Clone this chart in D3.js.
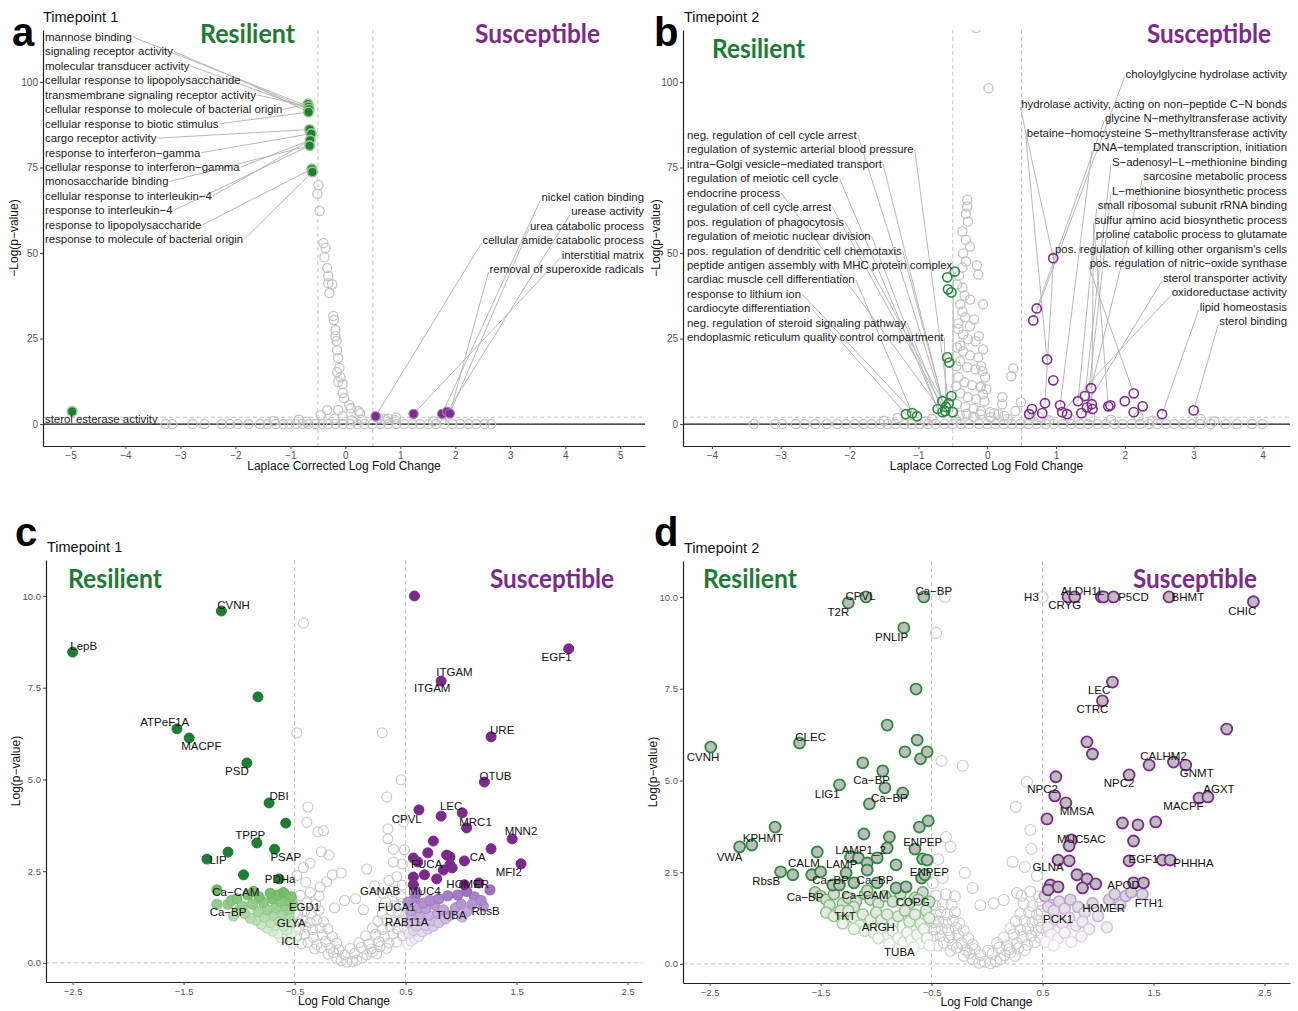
<!DOCTYPE html>
<html>
<head>
<meta charset="utf-8">
<title>Volcano plots - Timepoint 1 and 2</title>
<script src="https://cdn.jsdelivr.net/npm/d3@7/dist/d3.min.js"></script>
<style>
  body { margin: 0; background: #fff; }
  svg text { font-family: "Liberation Sans", Arial, sans-serif; }
  .group { font-family: Lato, "Open Sans", sans-serif !important; font-weight: 700; }
</style>
</head>
<body>
<svg id="fig" width="1298" height="1011"></svg>
<script>
// ---------------- tick labels ----------------
const aXTicks = [-5, -4, -3, -2, -1, 0, 1, 2, 3, 4, 5];
const bXTicks = [-4, -3, -2, -1, 0, 1, 2, 3, 4];
const abYTicks = [0, 25, 50, 75, 100];
const cdXTicks = [-2.5, -1.5, -0.5, 0.5, 1.5, 2.5];
const cdYTicks = [0, 2.5, 5, 7.5, 10];

// ---------------- panel a (GO terms, timepoint 1) ----------------
const aGreen = [[-0.68,93.6],[-0.67,92.8],[-0.66,92.0],[-0.67,91.2],[-0.65,86.1],[-0.62,84.9],[-0.64,83.0],[-0.65,81.4],[-0.61,74.6],[-0.60,73.7],[-4.97,3.7]];
const aPurple = [[0.55,2.3],[1.24,3.0],[1.76,3.0],[1.85,3.6],[1.90,3.1]];
const aGrey = [
  [-0.49,69.9],[-0.51,67.3],[-0.47,62.3],[-0.40,52.9],[-0.36,51.5],[-0.38,48.8],[-0.33,45.6],[-0.31,43.3],
  [-0.31,41.2],[-0.24,40.9],[-0.29,38.3],[-0.22,31.6],[-0.21,30.4],[-0.18,27.5],[-0.18,25.7],[-0.16,24.3],
  [-0.15,21.6],[-0.13,19.3],[-0.11,16.4],[-0.15,15.2],[-0.09,13.7],[-0.13,12.3],[-0.05,11.7],[-0.05,9.1],
  [-0.02,7.6],[0.07,5.6],[0.10,4.6],[-0.13,4.1],[-0.33,4.1],[0.24,3.8],[0.27,3.2],[-0.45,2.6],[-0.05,2.4],
  [0.60,1.8],[0.78,1.6],[0.92,1.9],[-1.30,0.9],[-0.85,1.3],[-0.70,0.7],[0.12,1.1],[0.72,1.4],[0.90,1.2],
  [1.60,0.8],[1.75,1.1],[-0.20,1.6],[0.30,1.3],
  [-3.27,0],[-3.15,0],[-2.78,0],[-2.56,0],[-2.25,0],[-2.10,0],[-1.96,0],[-1.76,0],[-1.55,0],[-1.42,0],
  [-1.27,0],[-1.13,0],[-1.02,0],[-0.90,0],[-0.78,0],[-0.67,0],[-0.55,0],[-0.42,0],[-0.31,0],[-0.18,0],
  [-0.05,0],[0.09,0],[0.22,0],[0.35,0],[0.49,0],[0.64,0],[0.78,0],[0.93,0],[1.07,0],[1.22,0],[1.36,0],
  [1.51,0],[1.65,0],[1.80,0],[1.95,0],[2.09,0],[2.24,0],[2.38,0],[2.53,0],[2.65,0]
];
const aLeftTerms = ["mannose binding","signaling receptor activity","molecular transducer activity",
  "cellular response to lipopolysaccharide","transmembrane signaling receptor activity",
  "cellular response to molecule of bacterial origin","cellular response to biotic stimulus",
  "cargo receptor activity","response to interferon−gamma","cellular response to interferon−gamma",
  "monosaccharide binding","cellular response to interleukin−4","response to interleukin−4",
  "response to lipopolysaccharide","response to molecule of bacterial origin"];
const aLeftTarget = [1,2,2,3,1,0,3,4,5,6,7,6,7,8,9];
const aRightTerms = ["nickel cation binding","urease activity","urea catabolic process",
  "cellular amide catabolic process","interstitial matrix","removal of superoxide radicals"];
const aRightTarget = [2,3,4,0,1,4];

// ---------------- panel b (GO terms, timepoint 2) ----------------
const bGreen = [[-0.47,44.6],[-0.58,42.9],[-0.57,39.4],[-0.52,38.5],[-0.58,19.5],[-0.55,18.0],[-0.52,8.2],
  [-0.65,6.7],[-0.56,6.1],[-0.72,4.4],[-0.61,3.8],[-0.50,3.5],[-1.18,2.9],[-1.09,3.2],[-1.02,2.3],[-0.65,3.5],[-0.60,5.0]];
const bPurple = [[0.96,48.5],[0.72,33.8],[0.67,30.3],[0.87,18.9],[0.96,12.8],[0.84,6.1],[0.65,4.4],[0.80,3.2],
  [1.06,5.5],[1.09,3.5],[1.16,2.9],[1.32,6.7],[1.37,3.2],[1.42,8.2],[1.45,4.9],[1.51,10.5],[1.52,5.8],[1.53,4.4],
  [1.76,5.2],[1.79,5.5],[2.00,6.7],[2.13,9.0],[2.13,3.5],[2.26,5.2],[2.54,2.9],[3.00,4.0],[0.61,2.9]];
const bGrey = [
  [-0.16,115.8],[0.02,98.2],
  [-0.29,65.6],[-0.29,63.6],[-0.31,61.5],[-0.28,59.2],[-0.36,56.3],[-0.31,53.9],[-0.25,51.9],[-0.35,49.9],
  [-0.31,47.5],[-0.15,46.4],[-0.36,45.8],[-0.13,43.7],[-0.41,43.4],[-0.44,40.8],[-0.36,39.9],[-0.33,37.6],
  [-0.25,36.4],[-0.06,35.0],[-0.39,35.0],[-0.36,32.9],[-0.32,31.2],[-0.19,30.6],[-0.42,29.4],[-0.25,28.6],
  [-0.42,27.8],[-0.35,26.2],[-0.12,25.7],[-0.28,24.8],[-0.17,24.2],[-0.44,22.4],[-0.39,22.9],[-0.06,21.9],
  [-0.35,21.3],[-0.25,20.1],[-0.13,19.5],[-0.39,18.4],[-0.29,16.6],[-0.09,16.9],[-0.45,16.9],[-0.17,16.0],
  [-0.07,15.5],[-0.42,13.7],[-0.03,13.7],[-0.33,12.2],[-0.22,11.4],[-0.45,11.1],[-0.09,11.1],[-0.10,10.8],
  [-0.01,10.2],[-0.39,9.0],[-0.06,8.7],[-0.28,7.9],[-0.16,7.3],[-0.04,6.7],[-0.44,5.8],[-0.32,5.0],
  [-0.20,4.4],[-0.09,3.8],[0.04,3.5],[0.16,2.9],
  [0.38,16.3],[0.35,14.0],[0.22,7.9],[0.22,5.8],[0.49,6.4],[0.41,3.8],
  [-0.40,2.5],[-0.30,3.0],[-0.20,2.2],[-0.10,2.8],[0.05,2.0],[0.10,3.2],[0.25,2.4],[0.30,1.5],[-0.45,1.2],
  [-0.80,1.5],[-0.90,0.8],[-1.30,1.8],[-1.50,1.0],[0.60,1.4],[0.75,2.0],[0.90,1.1],[1.20,1.6],[1.50,2.1],
  [1.80,1.3],[2.20,2.2],[2.40,1.0],[3.10,1.5],[3.30,0.8],
  [-3.39,0],[-3.08,0],[-2.98,0],[-2.78,0],[-2.65,0],[-2.50,0],[-2.33,0],[-2.18,0],[-2.05,0],[-1.93,0],
  [-1.80,0],[-1.68,0],[-1.55,0],[-1.45,0],[-1.33,0],[-1.20,0],[-1.10,0],[-0.98,0],[-0.86,0],[-0.75,0],
  [-0.62,0],[-0.50,0],[-0.38,0],[-0.26,0],[-0.12,0],[0.00,0],[0.12,0],[0.24,0],[0.36,0],[0.48,0],
  [0.60,0],[0.72,0],[0.85,0],[0.97,0],[1.10,0],[1.22,0],[1.35,0],[1.47,0],[1.60,0],[1.72,0],
  [1.85,0],[1.97,0],[2.10,0],[2.22,0],[2.35,0],[2.47,0],[2.60,0],[2.72,0],[2.85,0],[2.97,0],
  [3.10,0],[3.25,0],[3.46,0],[3.63,0],[3.85,0],[4.00,0]
];
const bLeftTerms = ["neg. regulation of cell cycle arrest","regulation of systemic arterial blood pressure",
  "intra−Golgi vesicle−mediated transport","regulation of meiotic cell cycle","endocrine process",
  "regulation of cell cycle arrest","pos. regulation of phagocytosis","regulation of meiotic nuclear division",
  "pos. regulation of dendritic cell chemotaxis","peptide antigen assembly with MHC protein complex",
  "cardiac muscle cell differentiation","response to lithium ion","cardiocyte differentiation",
  "neg. regulation of steroid signaling pathway","endoplasmic reticulum quality control compartment"];
const bLeftTarget = [10,8,7,9,15,10,16,9,7,11,13,14,12,15,16];
const bRightTerms = ["choloylglycine hydrolase activity","hydrolase activity, acting on non−peptide C−N bonds",
  "glycine N−methyltransferase activity","betaine−homocysteine S−methyltransferase activity",
  "DNA−templated transcription, initiation","S−adenosyl−L−methionine binding","sarcosine metabolic process",
  "L−methionine biosynthetic process","small ribosomal subunit rRNA binding","sulfur amino acid biosynthetic process",
  "proline catabolic process to glutamate","pos. regulation of killing other organism's cells",
  "pos. regulation of nitric−oxide synthase","sterol transporter activity","oxidoreductase activity",
  "lipid homeostasis","sterol binding"];
const bRightTarget = [2,0,1,3,8,13,15,14,11,16,18,5,21,12,9,24,25];

// ---------------- panel c (proteins, timepoint 1) ----------------
const cSigGreen = [[-2.50,8.47],[-1.16,9.59],[-0.83,7.25],[-1.56,6.38],[-1.45,6.13],[-0.93,5.45],[-0.73,4.36],
  [-0.58,3.81],[-0.84,3.27],[-0.68,3.10],[-1.10,3.02],[-1.29,2.83],[-0.96,2.40],[-0.64,2.29]];
const cSigPurple = [[0.58,10.0],[1.97,8.56],[0.82,7.68],[1.27,6.16],[1.21,4.93],[0.62,4.17],[0.82,4.00],[1.01,4.09],
  [1.05,3.68],[1.46,3.38],[0.75,3.32],[1.27,3.11],[0.70,3.00],[0.87,2.94],[0.90,2.89],[0.57,2.86],[1.03,2.78],
  [0.61,2.75],[0.90,2.67],[1.54,2.70],[0.84,2.53],[0.92,2.59],[0.67,2.40],[0.57,2.34],[0.78,2.29],[0.57,2.13],
  [1.03,2.13],[1.16,2.18]];
const cGreenLow = [[-0.52,0.55],[-0.55,0.62],[-0.58,0.70],[-0.62,0.68],[-0.53,0.80],[-0.57,0.90],[-0.65,0.80],
  [-0.70,0.87],[-0.60,1.00],[-0.68,1.02],[-0.75,0.95],[-0.53,1.10],[-0.58,1.20],[-0.64,1.15],[-0.72,1.10],
  [-0.80,1.05],[-0.85,1.17],[-0.55,1.30],[-0.62,1.35],[-0.70,1.30],[-0.77,1.25],[-0.90,1.22],[-0.95,1.35],
  [-0.55,1.45],[-0.60,1.55],[-0.67,1.50],[-0.75,1.45],[-0.83,1.40],[-1.00,1.45],[-1.05,1.28],[-0.52,1.62],
  [-0.58,1.70],[-0.63,1.68],[-0.70,1.75],[-0.78,1.65],[-0.88,1.60],[-1.10,1.60],[-1.20,1.60],[-0.65,1.85],
  [-0.72,1.90],[-0.82,1.80],[-0.92,1.85],[-1.07,1.70],[-1.20,1.99],[-1.02,1.75],[-0.97,1.55],[-0.87,1.95],
  [-0.60,1.92],[-0.53,1.80]];
const cPurpleLow = [[0.52,0.50],[0.55,0.60],[0.58,0.66],[0.62,0.72],[0.53,0.80],[0.57,0.88],[0.65,0.85],
  [0.70,0.92],[0.60,1.00],[0.68,1.02],[0.75,1.00],[0.53,1.10],[0.60,1.15],[0.66,1.20],[0.73,1.15],[0.80,1.10],
  [0.86,1.20],[0.55,1.30],[0.63,1.33],[0.71,1.30],[0.79,1.35],[0.90,1.30],[0.95,1.50],[0.55,1.42],[0.62,1.50],
  [0.68,1.48],[0.76,1.58],[0.84,1.45],[1.00,1.60],[1.05,1.40],[0.58,1.77],[0.66,1.63],[0.72,1.70],[0.80,1.75],
  [0.88,1.83],[0.97,1.85],[1.12,1.80],[1.26,1.99],[1.10,1.60],[1.20,1.55],[0.60,1.90],[1.05,1.95],[1.18,1.70],
  [1.01,1.25],[0.52,1.65]];
const cGrey = [
  [-0.08,0.06],[-0.03,0.02],[0.02,0.04],[0.06,0.08],[-0.12,0.12],[0.11,0.14],
  [-0.20,0.24],[-0.15,0.28],[-0.05,0.22],[0.04,0.26],[0.15,0.22],[0.20,0.30],[0.24,0.25],
  [-0.32,0.38],[-0.26,0.42],[-0.18,0.40],[-0.10,0.36],[0.00,0.40],[0.10,0.42],[0.19,0.38],[0.27,0.44],[0.33,0.40],
  [-0.44,0.52],[-0.38,0.56],[-0.30,0.50],[-0.22,0.58],[-0.12,0.54],[0.08,0.55],[0.17,0.52],[0.26,0.58],[0.35,0.54],[0.42,0.57],
  [-0.48,0.72],[-0.41,0.78],[-0.33,0.70],[-0.25,0.76],[-0.16,0.72],[0.14,0.74],[0.23,0.78],[0.31,0.71],[0.39,0.79],[0.47,0.74],
  [-0.46,0.92],[-0.40,0.98],[-0.34,0.90],[-0.27,0.96],[-0.20,0.93],[0.20,0.95],[0.29,0.91],[0.36,0.99],[0.43,0.93],[0.49,0.97],
  [-0.49,1.12],[-0.43,1.18],[-0.36,1.10],[-0.30,1.16],[-0.24,1.12],[0.25,1.14],[0.33,1.19],[0.40,1.11],[0.46,1.17],
  [-0.47,1.32],[-0.41,1.40],[-0.35,1.36],[-0.28,1.43],[0.29,1.34],[0.37,1.42],[0.44,1.37],[0.50,1.30],
  [-0.48,1.57],[-0.39,1.64],[-0.31,1.60],[0.32,1.66],[0.40,1.56],[0.47,1.62],
  [-0.45,1.84],[-0.36,1.92],[-0.28,1.82],[0.30,1.88],[0.38,1.95],[0.46,1.81],
  [-0.48,2.38],[-0.40,2.20],[-0.27,2.07],[-0.21,2.21],[-0.16,2.40],[-0.08,2.45],[0.15,2.56],[0.22,2.10],
  [0.35,2.25],[0.42,2.35],[0.47,2.12],[0.05,1.75],[-0.05,1.70],[0.12,1.45],[-0.14,1.50],
  [-0.36,2.72],[-0.42,2.60],[0.39,2.75],[0.47,2.70],[-0.19,2.94],[-0.26,3.03],[0.39,3.10],[0.49,3.08],
  [-0.29,3.57],[-0.24,3.60],[0.34,3.38],[0.34,3.65],[-0.38,4.25],[-0.39,3.83],[0.33,4.52],[0.48,3.84],
  [0.46,4.99],[-0.48,6.27],[0.29,6.27],[-0.42,9.26]
];
const cLabels = [["LepB",-2.40,8.64],["CVNH",-1.05,9.75],["ATPeF1A",-1.67,6.57],["MACPF",-1.34,5.91],
  ["PSD",-1.02,5.23],["DBI",-0.64,4.55],["TPPP",-0.90,3.49],["PSAP",-0.58,2.89],["LIP",-1.19,2.81],
  ["PDHa",-0.63,2.29],["Ca−CAM",-1.03,1.93],["Ca−BP",-1.10,1.39],["EGD1",-0.41,1.53],["GLYA",-0.53,1.09],
  ["ICL",-0.54,0.60],["GANAB",0.27,1.96],["MUC4",0.67,1.96],["FUCA",0.69,2.70],["FUCA1",0.42,1.53],
  ["RAB11A",0.51,1.12],["TUBA",0.91,1.31],["RbsB",1.22,1.42],["HOMER",1.06,2.15],["CA",1.15,2.89],
  ["MFI2",1.43,2.48],["MNN2",1.54,3.60],["MRC1",1.13,3.84],["LEC",0.91,4.28],["CPVL",0.51,3.92],
  ["OTUB",1.31,5.10],["URE",1.37,6.35],["ITGAM",0.94,7.93],["ITGAM",0.74,7.49],["EGF1",1.86,8.34]];

// ---------------- panel d (proteins, timepoint 2) ----------------
const dSigGreen = [[-2.49,5.91],[-1.69,6.02],[-1.25,9.84],[-1.09,10.0],[-0.57,10.0],[-0.75,9.16],[-0.64,7.49],
  [-0.90,6.51],[-0.63,6.10],[-0.74,5.78],[-0.60,5.59],[-0.54,5.78],[-1.12,5.48],[-0.94,5.26],[-0.92,4.80],
  [-1.33,4.88],[-0.76,4.66],[-1.06,4.36],[-1.91,3.73],[-2.12,3.24],[-2.23,3.19],[-1.53,3.05],[-1.86,2.51],
  [-1.75,2.43],[-1.58,2.43],[-1.50,2.51],[-1.39,2.15],[-1.33,2.15],[-1.27,2.48],[-1.20,2.21],[-1.23,2.92],
  [-1.16,2.89],[-1.08,2.75],[-1.08,2.56],[-0.99,2.89],[-0.90,3.16],[-0.88,3.46],[-1.11,3.54],[-0.82,2.70],
  [-0.99,2.21],[-0.82,2.07],[-0.73,2.10],[-0.65,3.13],[-0.61,3.73],[-0.53,3.90],[-0.58,2.86],[-0.54,2.83],
  [-0.59,2.34],[-0.56,2.43]];
const dSigPurple = [[0.73,10.0],[0.79,10.0],[1.03,10.0],[1.05,10.0],[1.14,10.0],[1.64,10.0],[2.40,9.87],
  [1.13,7.68],[1.04,7.17],[2.16,6.40],[0.90,6.05],[0.95,5.72],[1.46,5.42],[1.68,5.50],[1.79,5.42],[1.28,5.15],
  [0.62,5.10],[0.61,4.58],[0.71,4.39],[1.91,4.52],[1.99,4.55],[0.54,3.95],[1.22,3.84],[1.36,3.79],[1.52,3.87],
  [1.32,3.35],[0.76,3.38],[0.74,3.22],[1.28,2.81],[1.58,2.83],[1.65,2.83],[0.64,2.83],[0.74,2.81],[0.81,2.43],
  [0.90,2.32],[0.98,2.18],[0.86,2.07],[0.57,2.15],[0.64,2.10],[0.55,2.02],[1.32,2.21],[1.41,2.21]];
const dGreenLow = [[-1.55,1.95],[-1.50,1.85],[-1.45,1.75],[-1.38,1.90],[-1.30,1.65],[-1.25,1.80],[-1.18,1.70],
  [-1.10,1.90],[-1.05,1.75],[-0.98,1.65],[-0.92,1.85],[-0.85,1.70],[-0.78,1.90],[-0.70,1.65],[-0.65,1.80],
  [-0.58,1.95],[-0.52,1.70],[-1.08,2.00],[-0.62,1.75],[-1.42,1.60],[-1.20,1.55],
  [-1.45,1.40],[-1.38,1.30],[-1.32,1.45],[-1.25,1.45],[-1.20,1.25],[-1.12,1.35],[-1.05,1.20],[-1.00,1.40],
  [-0.95,1.20],[-0.90,1.35],[-0.85,1.10],[-0.80,1.30],[-0.74,1.45],[-0.70,1.15],[-0.65,1.35],[-0.60,1.10],
  [-0.55,1.45],[-0.52,1.25],[-1.30,1.10],[-1.15,1.05],
  [-1.20,0.95],[-1.10,0.90],[-1.02,0.85],[-0.95,0.95],[-0.90,0.75],[-0.85,0.90],[-0.80,0.70],[-0.75,0.60],
  [-0.72,0.85],[-0.68,0.65],[-0.63,0.80],[-0.60,0.55],[-0.57,0.95],[-0.54,0.70],[-0.52,0.50],[-0.98,0.70],
  [-0.88,0.55],[-0.66,0.45]];
const dPurpleLow = [[0.52,1.85],[0.58,1.60],[0.55,1.55],[0.65,1.70],[0.70,1.50],[0.75,1.75],[0.82,1.55],
  [0.88,1.40],[0.95,1.65],[1.10,1.75],[1.15,1.90],[1.25,1.85],[1.30,1.95],[1.40,1.90],[1.20,1.60],[1.00,1.30],
  [1.08,1.00],[0.60,1.45],[0.62,1.20],[0.68,1.10],[0.74,1.25],[0.80,1.05],[0.86,1.15],[0.92,0.95],[0.55,1.00],
  [0.58,0.80],[0.64,0.70],[0.70,0.85],[0.76,0.60],[0.53,0.60],[0.60,0.50],[0.85,0.75]];
const dGrey = [
  [-0.07,0.03],[-0.02,0.06],[0.03,0.02],[0.08,0.07],[-0.13,0.12],[0.12,0.13],
  [-0.21,0.22],[-0.16,0.30],[-0.06,0.24],[0.05,0.28],[0.16,0.24],[0.21,0.31],[0.25,0.22],
  [-0.33,0.36],[-0.27,0.44],[-0.19,0.38],[-0.11,0.40],[0.01,0.36],[0.11,0.44],[0.20,0.40],[0.28,0.42],[0.34,0.38],
  [-0.45,0.50],[-0.39,0.58],[-0.31,0.52],[-0.23,0.56],[-0.13,0.52],[0.09,0.57],[0.18,0.50],[0.27,0.56],[0.36,0.52],[0.43,0.59],
  [-0.49,0.74],[-0.42,0.76],[-0.34,0.72],[-0.26,0.78],[-0.17,0.70],[0.15,0.72],[0.24,0.80],[0.32,0.73],[0.40,0.77],[0.48,0.72],
  [-0.47,0.94],[-0.41,0.96],[-0.35,0.92],[-0.28,0.98],[-0.21,0.91],[0.21,0.97],[0.30,0.93],[0.37,0.97],[0.44,0.91],[0.49,0.99],
  [-0.48,1.14],[-0.44,1.16],[-0.37,1.12],[-0.31,1.18],[-0.25,1.10],[0.26,1.16],[0.34,1.17],[0.41,1.13],[0.47,1.19],
  [-0.46,1.34],[-0.42,1.42],[-0.36,1.34],[-0.29,1.41],[0.30,1.36],[0.38,1.40],[0.45,1.35],[0.49,1.44],
  [-0.47,1.59],[-0.40,1.62],[-0.32,1.62],[0.33,1.64],[0.41,1.58],[0.48,1.64],
  [-0.46,1.86],[-0.37,1.90],[-0.29,1.84],[0.31,1.86],[0.39,1.97],[0.47,1.83],
  [-0.49,2.20],[-0.40,2.34],[-0.20,2.48],[-0.13,2.07],[0.15,1.74],[0.27,1.93],[0.23,2.78],[0.34,2.64],
  [0.40,3.13],[-0.37,3.46],[-0.33,3.19],[-0.44,2.85],[0.45,2.40],[0.06,1.65],[-0.06,1.60],
  [0.36,4.96],[0.26,4.28],[0.39,3.65],[-0.41,5.53],[-0.22,5.40],[-0.46,9.02],[-0.38,10.0],[0.50,10.0]
];
const dLabels = [["CVNH",-2.56,5.64],["CLEC",-1.59,6.19],["T2R",-1.34,9.59],["CPVL",-1.14,10.03],
  ["Ca−BP",-0.48,10.16],["PNLIP",-0.86,8.91],["Ca−BP",-1.04,5.01],["LIG1",-1.44,4.63],["Ca−BP",-0.88,4.52],
  ["KPHMT",-2.02,3.43],["VWA",-2.32,2.92],["LAMP1_2",-1.14,3.11],["ENPEP",-0.58,3.32],["CALM",-1.65,2.75],
  ["LAMP",-1.31,2.72],["ENPEP",-0.52,2.51],["RbsB",-1.99,2.26],["Ca−BP",-1.41,2.29],["Ca−BP",-1.01,2.29],
  ["Ca−CAM",-1.10,1.88],["Ca−BP",-1.64,1.83],["COPG",-0.67,1.69],["TKT",-1.28,1.31],["ARGH",-0.98,1.01],
  ["TUBA",-0.79,0.33],["H3",0.40,10.0],["ALDH1L",0.86,10.16],["CRYG",0.70,9.78],["P5CD",1.32,10.0],
  ["BHMT",1.81,10.0],["CHIC",2.30,9.62],["LEC",1.01,7.47],["CTRC",0.95,6.95],["CALHM2",1.59,5.67],
  ["GNMT",1.89,5.20],["NPC2",1.19,4.93],["NPC2",0.50,4.77],["MMSA",0.81,4.17],["MACPF",1.77,4.31],
  ["AGXT",2.09,4.77],["MUC5AC",0.85,3.41],["EGF1",1.41,2.86],["PHHHA",1.86,2.75],["GLNA",0.55,2.64],
  ["APOD",1.23,2.15],["FTH1",1.46,1.66],["HOMER",1.05,1.53],["PCK1",0.64,1.23]];

// ---------------- drawing ----------------
const svg = d3.select("#fig");
const GREEN = "#1f7a36", PURPLE = "#7a2a8a";

function panel(p) {
  const x = d3.scaleLinear().domain(p.xd).range([p.l, p.r]);
  const y = d3.scaleLinear().domain(p.yd).range([p.b, p.t]);
  const root = svg.append("g");
  root.append("clipPath").attr("id", "clip" + p.key).append("rect")
    .attr("x", p.l).attr("y", p.t).attr("width", p.r - p.l).attr("height", p.b - p.t);

  // reference lines
  const ref = root.append("g");
  ref.selectAll("line.v").data([-0.5, 0.5]).join("line").attr("class", "v")
    .attr("x1", d => x(d)).attr("x2", d => x(d)).attr("y1", p.t).attr("y2", p.b)
    .attr("stroke", "#c2c2c2").attr("stroke-dasharray", "4,3");
  ref.append("line").attr("x1", p.l).attr("x2", p.r).attr("y1", y(p.hDash)).attr("y2", y(p.hDash))
    .attr("stroke", "#c2c2c2").attr("stroke-dasharray", "4,3");
  if (p.zeroSolid) {
    ref.append("line").attr("x1", p.l).attr("x2", p.r).attr("y1", y(0)).attr("y2", y(0))
      .attr("stroke", "#111").attr("stroke-width", 1.2);
  }

  const seg = root.append("g");
  const pts = root.append("g").attr("clip-path", "url(#clip" + p.key + ")");
  const txt = root.append("g");

  // axes
  const ya = root.append("g").attr("transform", "translate(" + p.l + ",0)")
    .call(d3.axisLeft(y).tickValues(p.yt).tickFormat(p.yf).tickSizeInner(3).tickSizeOuter(0).tickPadding(2));
  const xa = root.append("g").attr("transform", "translate(0," + p.b + ")")
    .call(d3.axisBottom(x).tickValues(p.xt).tickFormat(p.xf).tickSizeInner(3).tickSizeOuter(0).tickPadding(3));
  [ya, xa].forEach(a => {
    a.attr("font-family", null).attr("font-size", null);
    a.select(".domain").attr("stroke", "#222").attr("stroke-width", 1.2);
    a.selectAll(".tick line").attr("stroke", "#444");
    a.selectAll(".tick text").attr("fill", "#555").style("font-size", p.tickFs + "px");
  });

  // titles
  root.append("text").attr("x", p.letterX).attr("y", p.letterY).text(p.letter)
    .style("font-size", "40px").style("font-weight", "bold").attr("fill", "#000");
  root.append("text").attr("x", p.titleX).attr("y", p.titleY).text(p.title)
    .style("font-size", "14.5px").attr("fill", "#111");
  root.append("text").attr("transform", "translate(" + p.yTitleX + "," + ((p.t + p.b) / 2 + p.yTitleShift) + ") rotate(-90)")
    .attr("text-anchor", "middle").text(p.yTitle).style("font-size", "12px").attr("fill", "#111");
  root.append("text").attr("x", (p.l + p.r) / 2).attr("y", p.xTitleY).attr("text-anchor", "middle")
    .text(p.xTitle).style("font-size", "12px").attr("fill", "#111");
  root.append("text").attr("class", "group").attr("x", p.resX).attr("y", p.resY).text("Resilient")
    .attr("textLength", p.resW).attr("lengthAdjust", "spacingAndGlyphs")
    .style("font-size", "26px").attr("fill", GREEN);
  root.append("text").attr("class", "group").attr("x", p.susX).attr("y", p.susY).text("Susceptible")
    .attr("textLength", p.susW).attr("lengthAdjust", "spacingAndGlyphs")
    .style("font-size", "26px").attr("fill", PURPLE);

  return { x, y, seg, pts, txt };
}

function dots(P, data, r, fill, stroke, sw) {
  P.pts.append("g").selectAll("circle").data(data).join("circle")
    .attr("cx", d => P.x(d[0])).attr("cy", d => P.y(d[1])).attr("r", r)
    .attr("fill", fill).attr("stroke", stroke).attr("stroke-width", sw);
}

function terms(P, names, targets, pts, side, x0, rowY) {
  names.forEach((name, i) => {
    const yy = rowY(i);
    const t = P.txt.append("text").attr("x", x0).attr("y", yy).attr("dy", "0.35em")
      .attr("text-anchor", side === "left" ? "start" : "end")
      .style("font-size", "11.4px").attr("fill", "#1a1a1a").text(name);
    const w = t.node().getComputedTextLength();
    const pt = pts[targets[i]];
    const sx = side === "left" ? x0 + w + 1 : x0 - w - 1;
    P.seg.append("line").attr("x1", sx).attr("y1", yy + (side === "left" ? 0 : 3))
      .attr("x2", P.x(pt[0])).attr("y2", P.y(pt[1]))
      .attr("stroke", "#b8b8b8").attr("stroke-width", 1);
  });
}

function geneLabels(P, labels) {
  P.txt.selectAll("text.gene").data(labels).join("text").attr("class", "gene")
    .attr("x", d => P.x(d[1])).attr("y", d => P.y(d[2])).attr("dy", "0.35em")
    .attr("text-anchor", "middle").style("font-size", "11.5px").attr("fill", "#111")
    .text(d => d[0]);
}

const intFmt = d3.format("d");
const oneFmt = d3.format(".1f");

// panel a
const A = panel({ key: "a", l: 43, r: 645, t: 30, b: 446, xd: [-5.5, 5.45], yd: [-6.4, 115.2],
  xt: aXTicks, yt: abYTicks, xf: intFmt, yf: intFmt, tickFs: 10, hDash: 2, zeroSolid: true,
  letter: "a", letterX: 12, letterY: 46, title: "Timepoint 1", titleX: 43, titleY: 22,
  yTitle: "−Log(p−value)", yTitleX: 18, yTitleShift: 0, xTitle: "Laplace Corrected Log Fold Change", xTitleY: 470,
  resX: 200, resY: 43, resW: 95, susX: 475, susY: 43, susW: 125 });
dots(A, aGrey, 4.6, "none", "#c3c3c3", 1.3);
dots(A, aGreen, 4.8, "#237a35", "#8fcc88", 1.6);
dots(A, aPurple, 4.6, "#7b2d8e", "#a77cc0", 1.2);
terms(A, aLeftTerms, aLeftTarget, aGreen, "left", 45, i => 37 + i * 14.45);
terms(A, aRightTerms, aRightTarget, aPurple, "right", 644, i => 197 + i * 14.4);
A.txt.append("text").attr("x", 45).attr("y", 419).attr("dy", "0.35em").style("font-size", "11.4px")
  .attr("fill", "#1a1a1a").text("sterol esterase activity");

// panel b
const B = panel({ key: "b", l: 683, r: 1290, t: 30, b: 446, xd: [-4.42, 4.4], yd: [-6.4, 115.2],
  xt: bXTicks, yt: abYTicks, xf: intFmt, yf: intFmt, tickFs: 10, hDash: 2, zeroSolid: true,
  letter: "b", letterX: 654, letterY: 46, title: "Timepoint 2", titleX: 684, titleY: 22,
  yTitle: "−Log(p−value)", yTitleX: 660, yTitleShift: 0, xTitle: "Laplace Corrected Log Fold Change", xTitleY: 470,
  resX: 712, resY: 58, resW: 93, susX: 1147, susY: 43, susW: 124 });
dots(B, bGrey, 4.6, "none", "#c3c3c3", 1.3);
dots(B, bGreen, 4.6, "none", "#2a8a3c", 1.6);
dots(B, bPurple, 4.6, "none", "#7f2c92", 1.6);
terms(B, bLeftTerms, bLeftTarget, bGreen, "left", 687, i => 135 + i * 14.45);
terms(B, bRightTerms, bRightTarget, bPurple, "right", 1287, i => i === 0 ? 74 : 104 + (i - 1) * 14.5);

// colour ramps for the sub-threshold points
const lowT = d3.scaleLinear().domain([0.5, 2.0]).range([0, 1]).clamp(true);
const cGreenFill = t => d3.interpolateRgb("#ffffff", "#6fb865")(lowT(t));
const cGreenLine = t => d3.interpolateRgb("#d6ebd1", "#66b35c")(lowT(t));
const cPurpFill = t => d3.interpolateRgb("#ffffff", "#9a6fbf")(lowT(t));
const cPurpLine = t => d3.interpolateRgb("#e4d9ee", "#9064b6")(lowT(t));
const dFill = t => d3.interpolateRgb("#ffffff", "#d4d4d4")(lowT(t));
const dGreenLine = t => d3.interpolateRgb("#d6ebd1", "#5aae55")(lowT(t));
const dPurpLine = t => d3.interpolateRgb("#eadff0", "#b48ccc")(lowT(t));

// panel c
const C = panel({ key: "c", l: 46, r: 642, t: 560, b: 982, xd: [-2.74, 2.63], yd: [-0.52, 10.98],
  xt: cdXTicks, yt: cdYTicks, xf: oneFmt, yf: oneFmt, tickFs: 9.5, hDash: 0, zeroSolid: false,
  letter: "c", letterX: 15, letterY: 546, title: "Timepoint 1", titleX: 47, titleY: 552,
  yTitle: "Log(p−value)", yTitleX: 20, yTitleShift: 0, xTitle: "Log Fold Change", xTitleY: 1005,
  resX: 68, resY: 588, resW: 94, susX: 490, susY: 588, susW: 124 });
dots(C, cGrey, 5, "none", "#c8c8c8", 1.1);
dots(C, cGreenLow, 5, d => cGreenFill(d[1]), d => cGreenLine(d[1]), 1.1);
dots(C, cPurpleLow, 5, d => cPurpFill(d[1]), d => cPurpLine(d[1]), 1.1);
dots(C, cSigGreen, 5, "#1d7c35", "#1d7c35", 1);
dots(C, cSigPurple, 5, "#7b2a8c", "#7b2a8c", 1);
geneLabels(C, cLabels);

// panel d
const D = panel({ key: "d", l: 683, r: 1290, t: 561, b: 983, xd: [-2.74, 2.73], yd: [-0.52, 10.98],
  xt: cdXTicks, yt: cdYTicks, xf: oneFmt, yf: oneFmt, tickFs: 9.5, hDash: 0, zeroSolid: false,
  letter: "d", letterX: 654, letterY: 546, title: "Timepoint 2", titleX: 684, titleY: 553,
  yTitle: "Log(p−value)", yTitleX: 657, yTitleShift: 0, xTitle: "Log Fold Change", xTitleY: 1006,
  resX: 703, resY: 588, resW: 94, susX: 1133, susY: 588, susW: 124 });
dots(D, dGrey, 5.5, "none", "#cacaca", 1.1);
dots(D, dGreenLow, 5.5, d => dFill(d[1]), d => dGreenLine(d[1]), 1.5);
dots(D, dPurpleLow, 5.5, d => dFill(d[1]), d => dPurpLine(d[1]), 1.5);
dots(D, dSigGreen, 5.5, "#bdbdbd", "#2b8a3c", 1.8);
dots(D, dSigPurple, 5.5, "#bdbdbd", "#7b2a8c", 1.8);
geneLabels(D, dLabels);
</script>
</body>
</html>
